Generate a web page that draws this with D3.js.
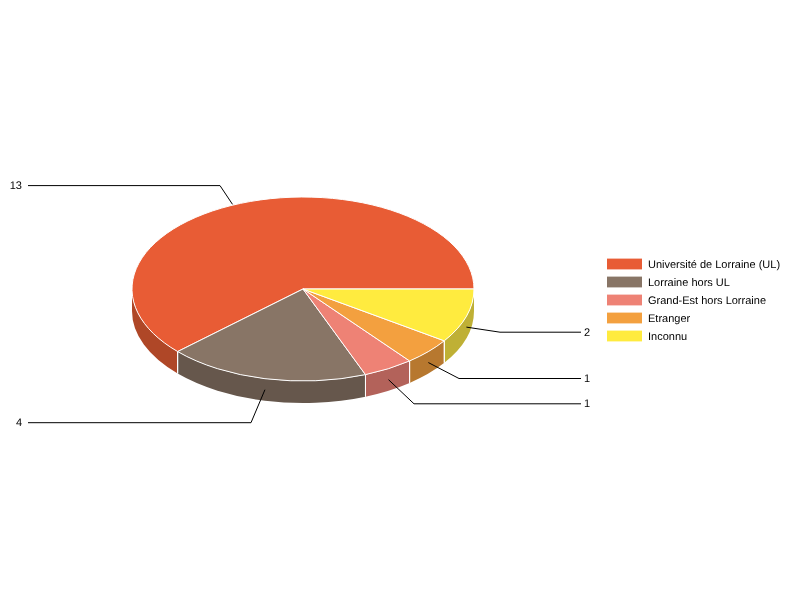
<!DOCTYPE html>
<html><head><meta charset="utf-8">
<script src="https://cdn.jsdelivr.net/npm/d3@7/dist/d3.min.js"></script>
<style>html,body{margin:0;background:#fff}svg{display:block}text{font-family:"Liberation Sans",Arial,sans-serif;font-size:11px;fill:#000;text-rendering:geometricPrecision}.t{opacity:.995;will-change:opacity}</style>
</head><body><div id="c"></div>
<script>
const categories = ["Université de Lorraine (UL)","Lorraine hors UL","Grand-Est hors Lorraine","Etranger","Inconnu"];
const values = [13,4,1,1,2];
const topColors = ["#E85C35","#887566","#EE8275","#F3A03F","#FFEB3F"];
const sideColors = ["#AF4727","#66574C","#B3625A","#B7782F","#BFB035"];
const labelRows = [185.6,422.7,403.8,378.5,332.2];
const labelEdge = [28,28,581,581,581];
const elbowX = [220,251,414,459,500];
const anchorShift = [-8,0,0,0,0];

const W=800,H=600,cx=303,cy=289,rx=171,ry=92,depth=22;
const svg=d3.select("#c").append("svg").attr("width",W).attr("height",H);
const slices=d3.pie().sort(null).value(d=>d).startAngle(0).endAngle(2*Math.PI)(values);
// pie angle runs counter-clockwise on screen starting at 3 o'clock
const px=a=>cx+rx*Math.cos(a), py=(a,o=0)=>cy-ry*Math.sin(a)+o;
const isFront=a=>Math.sin(a)<0;
const g=svg.append("g");
const PI=Math.PI;
slices.forEach((s,i)=>{
  const a0=Math.max(s.startAngle,PI), a1=Math.min(s.endAngle,2*PI);
  if(a1<=a0) return;
  const large=(a1-a0)>PI?1:0;
  const d=`M${px(a0)},${py(a0)}A${rx},${ry} 0 ${large} 0 ${px(a1)},${py(a1)}L${px(a1)},${py(a1,depth)}A${rx},${ry} 0 ${large} 1 ${px(a0)},${py(a0,depth)}Z`;
  g.append("path").attr("d",d).attr("fill",sideColors[i]);
});
slices.forEach(s=>{
  [s.startAngle,s.endAngle].forEach(a=>{
    if(isFront(a)&&Math.abs(Math.sin(a))>1e-6) g.append("line").attr("x1",px(a)).attr("x2",px(a)).attr("y1",py(a)).attr("y2",py(a,depth)).attr("stroke","#fff").attr("stroke-width",1);
  });
});
slices.forEach((s,i)=>{
  const a0=s.startAngle,a1=s.endAngle,large=(a1-a0)>PI?1:0;
  g.append("path").attr("d",`M${cx},${cy}L${px(a0)},${py(a0)}A${rx},${ry} 0 ${large} 0 ${px(a1)},${py(a1)}Z`)
   .attr("fill",topColors[i]).attr("stroke","#fff").attr("stroke-width",1).attr("stroke-linejoin","round");
});
const labels=svg.append("g").attr("class","t");
slices.forEach((s,i)=>{
  const m=(s.startAngle+s.endAngle)/2;
  const front=isFront(m);
  const ax=px(m)+anchorShift[i], ay=py(m,front?depth/2:0)+(front?0:1);
  const y=labelRows[i];
  g.append("path").attr("d",`M${ax},${ay}L${elbowX[i]},${y}L${labelEdge[i]},${y}`).attr("fill","none").attr("stroke","#000").attr("stroke-width",1);
  const left=labelEdge[i]<W/4;
  labels.append("text").attr("x",left?labelEdge[i]-6:labelEdge[i]+3).attr("y",Math.floor(y)+4).attr("text-anchor",left?"end":"start").text(s.value);
});
const leg=svg.append("g").selectAll("g").data(categories).join("g").attr("transform",(d,i)=>`translate(607,${258.6+i*18})`);
leg.append("rect").attr("width",35).attr("height",10.8).attr("fill",(d,i)=>topColors[i]);
const legT=svg.append("g").attr("class","t");
categories.forEach((d,i)=>legT.append("text").attr("x",648).attr("y",267.5+i*18).text(d));
</script></body></html>
